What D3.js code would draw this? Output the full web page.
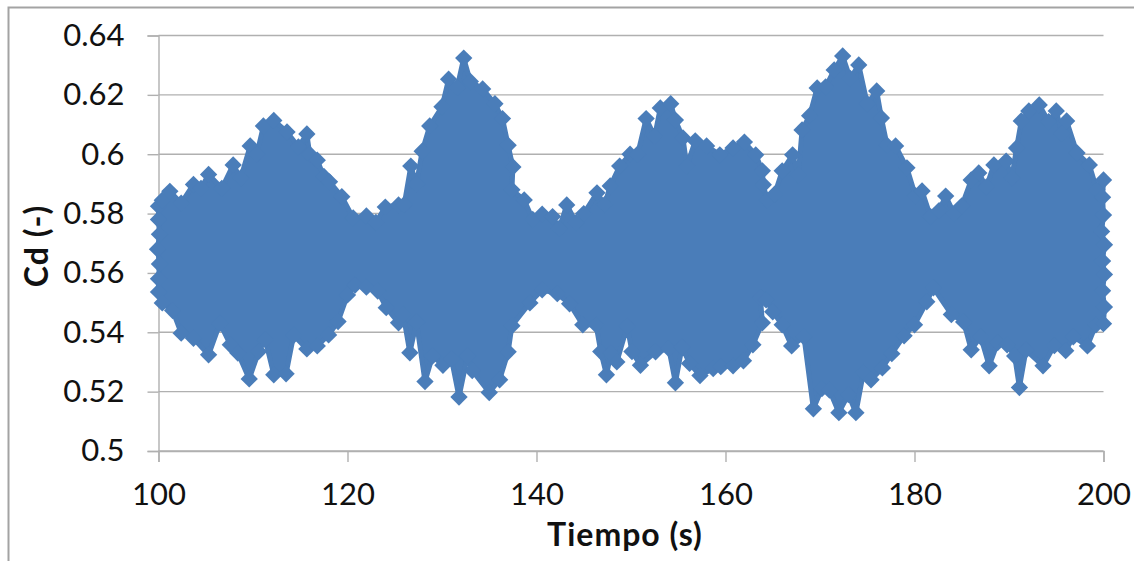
<!DOCTYPE html>
<html><head><meta charset="utf-8">
<script src="https://cdn.jsdelivr.net/npm/d3@7/dist/d3.min.js"></script>
<style>html,body{margin:0;padding:0;background:#fff}svg{display:block}</style>
</head><body><svg id="c" width="1134" height="561"></svg>
<script>
const xTicks=[100,120,140,160,180,200];
const yTicks=[0.5,0.52,0.54,0.56,0.58,0.6,0.62,0.64];
const yLabels=["0.5","0.52","0.54","0.56","0.58","0.6","0.62","0.64"];
const xTitle="Tiempo (s)";
const yTitle="Cd (-)";
// Outermost markers: [tiempo, Cd]
const upperEdge=[[100,0.5825],[100.4,0.5845],[101.2,0.5875],[102.4,0.5835],[103.7,0.5898],[104.5,0.5885],[105.3,0.5932],[106.7,0.5885],[107.9,0.5964],[108.7,0.592],[109.7,0.6028],[110.4,0.6],[111.1,0.6095],[112.2,0.6114],[113.6,0.6075],[114.8,0.6025],[115.7,0.6068],[116,0.6],[116.8,0.598],[117.5,0.5925],[118.1,0.5907],[119.4,0.5857],[120.6,0.5785],[122,0.5792],[123,0.577],[124,0.5822],[125.4,0.5829],[126,0.583],[126.7,0.596],[127.3,0.59],[127.9,0.601],[128.7,0.6095],[130,0.616],[130.7,0.6253],[131.6,0.6225],[132.3,0.6324],[133,0.6245],[134.3,0.622],[135.6,0.617],[136.4,0.612],[137,0.603],[137.5,0.5957],[137.4,0.588],[138.7,0.5846],[139.6,0.578],[140.6,0.5798],[141.7,0.579],[142.4,0.575],[143.2,0.5829],[144.2,0.577],[145,0.58],[146.4,0.587],[147.2,0.583],[147.8,0.5893],[148.8,0.596],[149.9,0.6],[150.7,0.6],[151.6,0.612],[152.5,0.606],[153.1,0.6156],[154.2,0.617],[154.7,0.6115],[155.5,0.6055],[155.9,0.596],[156.8,0.6045],[158,0.6028],[159.4,0.5998],[160.8,0.6021],[162,0.6041],[163.2,0.5998],[163.9,0.5944],[164,0.5897],[164.4,0.5845],[165.2,0.5865],[166,0.5944],[167.1,0.5998],[167.7,0.593],[168.1,0.6082],[168.9,0.613],[169.7,0.6223],[170.6,0.6227],[171.5,0.6284],[172.4,0.6331],[173.2,0.6255],[174.1,0.6301],[175,0.617],[176,0.6213],[176.5,0.6122],[177.1,0.603],[178,0.6028],[179.2,0.5954],[180.1,0.586],[180.8,0.5876],[181.7,0.579],[182.6,0.581],[183.3,0.5859],[184.2,0.58],[185,0.5826],[186,0.5913],[186.8,0.5937],[187.6,0.589],[188.4,0.5964],[189.7,0.5977],[190.3,0.592],[190.8,0.6021],[191.3,0.6112],[192.1,0.6146],[193.2,0.6166],[194.2,0.611],[195,0.6146],[195.6,0.607],[196.1,0.6112],[197.2,0.6004],[198.5,0.5964],[199.3,0.588],[200,0.5913]];
const lowerEdge=[[100,0.5536],[100.4,0.5499],[101.5,0.5473],[102.4,0.5397],[103.7,0.538],[105.3,0.5324],[106.5,0.543],[107.6,0.5358],[108.4,0.533],[109.6,0.5243],[110.6,0.5335],[111.3,0.5375],[112.2,0.5257],[113.5,0.526],[114.3,0.539],[115.7,0.5344],[116.8,0.5354],[118,0.5391],[119,0.5436],[120,0.5526],[120.8,0.5559],[122,0.5552],[123.2,0.5539],[124.1,0.5483],[125.4,0.5432],[125.9,0.546],[126.6,0.5331],[127.3,0.5435],[128.2,0.5234],[129,0.532],[130.1,0.5289],[131,0.531],[131.8,0.5182],[132.7,0.532],[133.2,0.5271],[135,0.5197],[136.1,0.524],[137,0.5334],[137.4,0.5422],[139.3,0.5499],[140.6,0.5543],[142.2,0.553],[143.5,0.5496],[144.9,0.5425],[146.3,0.5425],[146.8,0.5335],[147.4,0.5257],[147.9,0.533],[148.5,0.53],[149.6,0.542],[150.1,0.5335],[151,0.5289],[152.6,0.5334],[154,0.5345],[154.7,0.523],[155.4,0.535],[156.2,0.5295],[157.3,0.5254],[158.7,0.5278],[159.5,0.5284],[160.8,0.5287],[161.9,0.5304],[162.9,0.5358],[163.9,0.5432],[163.7,0.5516],[164.3,0.5509],[165,0.5469],[166,0.5425],[167,0.5354],[168.3,0.5385],[169.3,0.5142],[170.2,0.521],[171,0.5205],[172,0.5129],[173,0.519],[173.8,0.5129],[174.6,0.5265],[175.4,0.524],[176.6,0.528],[177.6,0.5328],[178.9,0.5388],[180,0.5425],[181.3,0.5503],[182,0.555],[183.9,0.546],[185.2,0.5435],[186,0.5341],[187,0.5385],[187.9,0.5287],[188.8,0.5365],[189.8,0.5358],[190.6,0.532],[191.1,0.5214],[191.8,0.534],[193.6,0.5287],[194.8,0.5355],[196,0.5338],[196.8,0.5385],[198.3,0.5354],[199.2,0.5425],[200,0.5429]];
const leftEdge=[[100,0.578],[100.1,0.573],[99.9,0.568],[100.1,0.563],[100,0.558]];
const rightEdge=[[199.9,0.5855],[200,0.5795],[199.8,0.574],[200.1,0.5695],[199.9,0.564],[200.1,0.5595],[199.9,0.554],[200.1,0.5485]];

const x=d3.scaleLinear().domain([100,200]).range([158.5,1103.5]);
const y=d3.scaleLinear().domain([0.5,0.64]).range([451,35.5]);
const blue="#4a7db9",grid="#b0b0b0",ink="#111";
const font="Lato, Carlito, sans-serif";
const svg=d3.select("#c");

svg.append("path").attr("d","M8.5,561V7.5H1134").attr("fill","none").attr("stroke","#a3a3a3").attr("stroke-width",2);

svg.append("g").selectAll("line").data(yTicks).join("line")
 .attr("x1",x(100)).attr("x2",x(200)).attr("y1",d=>y(d)).attr("y2",d=>y(d))
 .attr("stroke",grid).attr("stroke-width",1.4);

const ax=svg.append("g").attr("transform",`translate(0,${y(0.5)})`)
 .call(d3.axisBottom(x).tickValues(xTicks).tickSize(11).tickPadding(21).tickFormat(d3.format("d")));
const ay=svg.append("g").attr("transform",`translate(${x(100)},0)`)
 .call(d3.axisLeft(y).tickValues(yTicks).tickSize(11).tickPadding(23).tickFormat((d,i)=>yLabels[i]));
[ax,ay].forEach(g=>{
 g.selectAll("path.domain").attr("stroke",grid).attr("stroke-width",1.4);
 g.selectAll(".tick line").attr("stroke",grid).attr("stroke-width",1.4);
 g.selectAll("text").attr("font-family",font).attr("font-size",31).attr("fill",ink);
});

// The interior of the cloud is solid in the picture: a band between both edges
const band=d3.line().x(d=>x(d[0])).y(d=>y(d[1]));
svg.append("path").attr("d",band(upperEdge.concat(rightEdge,lowerEdge.slice().reverse(),leftEdge.slice().reverse()))+"Z")
 .attr("fill",blue).attr("stroke",blue).attr("stroke-width",5).attr("stroke-linejoin","round");

const diamond=d3.symbol().type(d3.symbolSquare).size(150);
svg.append("g").selectAll("path").data(upperEdge.concat(lowerEdge,leftEdge,rightEdge)).join("path")
 .attr("d",diamond).attr("fill",blue)
 .attr("transform",d=>`translate(${x(d[0])},${y(d[1])}) rotate(45)`);

svg.append("text").attr("x",625).attr("y",546).attr("text-anchor","middle")
 .attr("font-family",font).attr("font-weight",700).attr("font-size",32).attr("letter-spacing",1).attr("fill",ink).text(xTitle);
svg.append("text").attr("transform","translate(48,246) rotate(-90)").attr("text-anchor","middle")
 .attr("font-family",font).attr("font-weight",700).attr("font-size",32).attr("letter-spacing",1).attr("fill",ink).text(yTitle);
</script></body></html>
